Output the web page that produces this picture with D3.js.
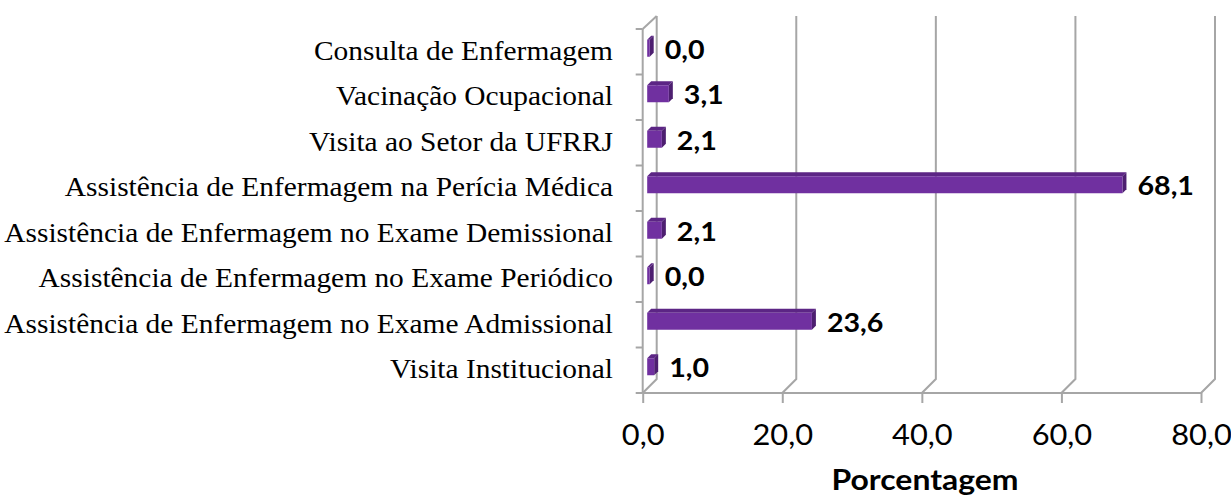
<!DOCTYPE html>
<html>
<head>
<meta charset="utf-8">
<script src="https://cdn.jsdelivr.net/npm/d3@7"></script>
<style>
  body { margin: 0; background: #fff; }
</style>
</head>
<body>
<svg id="chart"></svg>
<script>
const categories = [
  'Consulta de Enfermagem',
  'Vacinação Ocupacional',
  'Visita ao Setor da UFRRJ',
  'Assistência de Enfermagem na Perícia Médica',
  'Assistência de Enfermagem no Exame Demissional',
  'Assistência de Enfermagem no Exame Periódico',
  'Assistência de Enfermagem no Exame Admissional',
  'Visita Institucional'
];
const values = [0.0, 3.1, 2.1, 68.1, 2.1, 0.0, 23.6, 1.0];
const xTicks = [0, 20, 40, 60, 80];
const axisTitle = 'Porcentagem';

const width = 1231;
const height = 500;
const plotLeft = 642.7, plotRight = 1201, plotTop = 29, plotBottom = 393;
const depth = 14; // 3D wall offset
const barShift = 4.5, barDepth = 4;
const stretch = 1.1; // the original picture is a bit wider than tall

const fmt = (v) => v.toFixed(1).replace('.', ',');

const svg = d3.select('#chart').attr('width', width).attr('height', height);

const x = d3.scaleLinear().domain([0, 80]).range([plotLeft, plotRight]);
const y = d3.scaleBand().domain(categories).range([plotTop, plotBottom]);

const grid = '#a6a6a6';

// back wall gridlines with slanted floor segments
const g = svg.append('g').attr('fill', 'none').attr('stroke', grid).attr('stroke-width', 2);
xTicks.forEach((t) => {
  g.append('path').attr('d', d3.line()([
    [x(t), plotBottom], [x(t) + depth, plotBottom - depth], [x(t) + depth, plotTop - depth + 1]
  ]));
});
// left side wall
g.append('path').attr('d', d3.line()([[plotLeft, plotTop], [plotLeft + depth, plotTop - depth + 1]]));
g.append('line').attr('x1', plotLeft).attr('x2', plotLeft).attr('y1', plotTop).attr('y2', plotBottom);

// front axes
const ax = svg.append('g')
  .attr('transform', `translate(0,${plotBottom})`)
  .call(d3.axisBottom(x).tickValues(xTicks).tickSize(10).tickFormat(fmt));
ax.select('.domain').attr('stroke', grid).attr('stroke-width', 2).attr('d', `M${plotLeft},0H${plotRight}`);
ax.selectAll('.tick line').attr('stroke', grid).attr('stroke-width', 2);
ax.selectAll('.tick text')
  .attr('y', 0).attr('dy', 0)
  .attr('transform', `translate(0,52) scale(${stretch},1)`)
  .attr('font-family', 'Lato, sans-serif').attr('font-size', 28).attr('fill', '#000');

// category boundary ticks
svg.append('g').selectAll('line')
  .data(d3.range(categories.length + 1))
  .join('line')
  .attr('x1', plotLeft - 7).attr('x2', plotLeft)
  .attr('y1', (i) => plotTop + i * y.step())
  .attr('y2', (i) => plotTop + i * y.step())
  .attr('stroke', grid).attr('stroke-width', 2);

// category labels
svg.append('g').selectAll('text')
  .data(categories)
  .join('text')
  .attr('transform', (d) => `translate(613,${y(d) + y.bandwidth() / 2 + 8}) scale(1.09,1)`)
  .attr('text-anchor', 'end')
  .attr('font-family', '"Liberation Serif", "Times New Roman", serif')
  .attr('font-size', 27)
  .attr('fill', '#000')
  .text((d) => d);

// 3D bars
const bars = svg.append('g');
const x0 = x(0) + barShift;
categories.forEach((c, i) => {
  const v = values[i];
  const cy = y(c) + y.bandwidth() / 2;
  const y0 = cy - 12, y1 = cy + 5;
  const xe = x(v) + barShift;
  const w = Math.max(xe - x0, 2.5);
  // top face
  bars.append('path')
    .attr('d', d3.line()([[x0, y0], [x0 + barDepth, y0 - barDepth], [x0 + w + barDepth, y0 - barDepth], [x0 + w, y0]]) + 'Z')
    .attr('fill', '#5c2585');
  // side face
  bars.append('path')
    .attr('d', d3.line()([[x0 + w, y0], [x0 + w + barDepth, y0 - barDepth], [x0 + w + barDepth, y1 - barDepth], [x0 + w, y1]]) + 'Z')
    .attr('fill', '#4d1f70');
  // front face
  bars.append('rect')
    .attr('x', x0).attr('y', y0).attr('width', w).attr('height', y1 - y0)
    .attr('fill', '#7030a0');
  // value label
  bars.append('text')
    .attr('transform', `translate(${x0 + w + barDepth + 11},${cy + 7}) scale(${stretch},1)`)
    .attr('font-family', 'Lato, sans-serif')
    .attr('font-weight', 'bold')
    .attr('font-size', 26)
    .attr('fill', '#000')
    .text(fmt(v));
});

// axis title
svg.append('text')
  .attr('transform', `translate(925,490) scale(${stretch},1)`)
  .attr('text-anchor', 'middle')
  .attr('font-family', 'Lato, sans-serif')
  .attr('font-weight', 'bold')
  .attr('font-size', 29)
  .attr('fill', '#000')
  .text(axisTitle);
</script>
</body>
</html>
